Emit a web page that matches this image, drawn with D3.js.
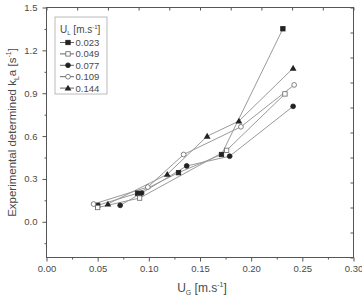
<!DOCTYPE html>
<html>
<head>
<meta charset="utf-8">
<script src="https://cdn.jsdelivr.net/npm/d3@7"></script>
<style>
  body { margin: 0; background: #fff; }
  svg { display: block; font-family: "Liberation Sans", Arial, sans-serif; }
</style>
</head>
<body>
<svg id="canvas"></svg>
<script>
const seriesLabels = ["0.023", "0.049", "0.077", "0.109", "0.144"];
const seriesShapes = ["square", "squareOpen", "circle", "circleOpen", "triangle"];

const ug023 = [0.050, 0.089, 0.129, 0.171, 0.231];
const kla023 = [0.115, 0.200, 0.344, 0.471, 1.351];
const ug049 = [0.050, 0.091, 0.176, 0.233];
const kla049 = [0.100, 0.166, 0.500, 0.895];
const ug077 = [0.072, 0.093, 0.137, 0.179, 0.241];
const kla077 = [0.115, 0.201, 0.391, 0.459, 0.808];
const ug109 = [0.046, 0.099, 0.134, 0.190, 0.242];
const kla109 = [0.124, 0.243, 0.471, 0.665, 0.958];
const ug144 = [0.060, 0.118, 0.157, 0.188, 0.241];
const kla144 = [0.124, 0.332, 0.599, 0.705, 1.075];

const xTicks = [0, 0.05, 0.10, 0.15, 0.20, 0.25, 0.30];
const xMinorTicks = [0.025, 0.075, 0.125, 0.175, 0.225, 0.275];
const yTicks = [0, 0.3, 0.6, 0.9, 1.2, 1.5];
const yMinorTicks = [-0.15, 0.15, 0.45, 0.75, 1.05, 1.35];

const width = 362, height = 297;
const plotLeft = 46.5, plotRight = 353.5, plotTop = 7.5, plotBottom = 257.5;
const textColor = "#4a4a4a";

const series = [
  { ug: ug023, kla: kla023 },
  { ug: ug049, kla: kla049 },
  { ug: ug077, kla: kla077 },
  { ug: ug109, kla: kla109 },
  { ug: ug144, kla: kla144 }
].map((s, i) => ({
  label: seriesLabels[i],
  shape: seriesShapes[i],
  points: s.ug.map((u, j) => [u, s.kla[j]])
}));

const svg = d3.select("#canvas").attr("width", width).attr("height", height);

const x = d3.scaleLinear().domain([0, 0.3]).range([plotLeft, plotRight]);
const y = d3.scaleLinear().domain([-0.25, 1.5]).range([plotBottom, plotTop]);
// mirrored top/right axes are split in 10 even parts
const xTop = d3.scaleLinear().domain([0, 10]).range([plotLeft, plotRight]);
const yRight = d3.scaleLinear().domain([0, 10]).range([plotBottom, plotTop]);

function styleAxis(g) {
  g.selectAll(".domain").remove();
  g.selectAll(".tick line").attr("stroke", "#555");
  g.selectAll(".tick text").attr("fill", textColor).attr("font-size", 9.5)
    .attr("font-family", "Liberation Sans, Arial, sans-serif");
}

svg.append("g").attr("transform", `translate(0,${plotBottom})`)
  .call(d3.axisBottom(x).tickValues(xTicks).tickSize(4).tickPadding(4).tickFormat(d3.format(".2f")))
  .call(styleAxis);
svg.append("g").attr("transform", `translate(0,${plotBottom})`)
  .call(d3.axisBottom(x).tickValues(xMinorTicks).tickSize(2).tickFormat(""))
  .call(styleAxis);

svg.append("g").attr("transform", `translate(${plotLeft},0)`)
  .call(d3.axisLeft(y).tickValues(yTicks).tickSize(4).tickPadding(5).tickFormat(d3.format(".1f")))
  .call(styleAxis);
svg.append("g").attr("transform", `translate(${plotLeft},0)`)
  .call(d3.axisLeft(y).tickValues(yMinorTicks).tickSize(2).tickFormat(""))
  .call(styleAxis);

svg.append("g").attr("transform", `translate(0,${plotTop})`)
  .call(d3.axisTop(xTop).ticks(10).tickSize(-3).tickFormat(""))
  .call(styleAxis);
svg.append("g").attr("transform", `translate(${plotRight},0)`)
  .call(d3.axisRight(yRight).ticks(10).tickSize(-3).tickFormat(""))
  .call(styleAxis);

svg.append("rect")
  .attr("x", plotLeft).attr("y", plotTop)
  .attr("width", plotRight - plotLeft).attr("height", plotBottom - plotTop)
  .attr("fill", "none").attr("stroke", "#555").attr("stroke-width", 1);

const line = d3.line().x(d => x(d[0])).y(d => y(d[1]));

svg.selectAll(".series-line")
  .data(series)
  .enter()
  .append("path")
  .attr("class", "series-line")
  .attr("d", d => line(d.points))
  .attr("fill", "none")
  .attr("stroke", "#9a9a9a")
  .attr("stroke-width", 1);

function drawMarker(g, shape, cx, cy) {
  if (shape === "square" || shape === "squareOpen") {
    g.append("rect")
      .attr("x", cx - 2.2).attr("y", cy - 2.2)
      .attr("width", 4.4).attr("height", 4.4)
      .attr("fill", shape === "square" ? "#222" : "#fff")
      .attr("stroke", shape === "square" ? "#222" : "#666")
      .attr("stroke-width", 0.8);
  } else if (shape === "circle" || shape === "circleOpen") {
    g.append("circle")
      .attr("cx", cx).attr("cy", cy).attr("r", 2.4)
      .attr("fill", shape === "circle" ? "#222" : "#fff")
      .attr("stroke", shape === "circle" ? "#222" : "#666")
      .attr("stroke-width", 0.8);
  } else {
    const sym = d3.symbol().type(d3.symbolTriangle).size(20);
    g.append("path")
      .attr("d", sym())
      .attr("transform", `translate(${cx},${cy + 0.5})`)
      .attr("fill", "#222");
  }
}

const markers = svg.append("g");
series.forEach(s => {
  s.points.forEach(p => drawMarker(markers, s.shape, x(p[0]), y(p[1])));
});

// legend
const legend = svg.append("g").attr("transform", "translate(55,17)");
legend.append("rect")
  .attr("width", 52).attr("height", 77)
  .attr("fill", "#fff").attr("stroke", "#aaa").attr("stroke-width", 0.8);

const title = legend.append("text")
  .attr("x", 5).attr("y", 16)
  .attr("fill", textColor).attr("font-size", 10);
title.append("tspan").text("U");
title.append("tspan").text("L").attr("font-size", 6).attr("dy", 2);
title.append("tspan").text(" [m.s").attr("dy", -2);
title.append("tspan").text("-1").attr("font-size", 6).attr("dy", -4);
title.append("tspan").text("]").attr("dy", 4);

series.forEach((s, i) => {
  const cy = 25.5 + i * 11.4;
  legend.append("line")
    .attr("x1", 5).attr("x2", 19)
    .attr("y1", cy).attr("y2", cy)
    .attr("stroke", "#666").attr("stroke-width", 1);
  drawMarker(legend, s.shape, 13, cy);
  legend.append("text")
    .attr("x", 20.5).attr("y", cy + 3.5)
    .attr("fill", textColor).attr("font-size", 9.5)
    .text(s.label);
});

// axis titles
const xTitle = svg.append("text")
  .attr("x", 202).attr("y", 292)
  .attr("text-anchor", "middle")
  .attr("fill", textColor).attr("font-size", 12);
xTitle.append("tspan").text("U");
xTitle.append("tspan").text("G").attr("font-size", 7).attr("dy", 3);
xTitle.append("tspan").text(" [m.s").attr("dy", -3);
xTitle.append("tspan").text("-1").attr("font-size", 7).attr("dy", -5);
xTitle.append("tspan").text("]").attr("dy", 5);

const yTitle = svg.append("text")
  .attr("transform", `translate(16,${(plotTop + plotBottom) / 2}) rotate(-90)`)
  .attr("text-anchor", "middle")
  .attr("fill", textColor).attr("font-size", 11.5);
yTitle.append("tspan").text("Experimental determined k");
yTitle.append("tspan").text("L").attr("font-size", 7).attr("dy", 3);
yTitle.append("tspan").text("a [s").attr("dy", -3);
yTitle.append("tspan").text("-1").attr("font-size", 7).attr("dy", -5);
yTitle.append("tspan").text("]").attr("dy", 5);
</script>
</body>
</html>
